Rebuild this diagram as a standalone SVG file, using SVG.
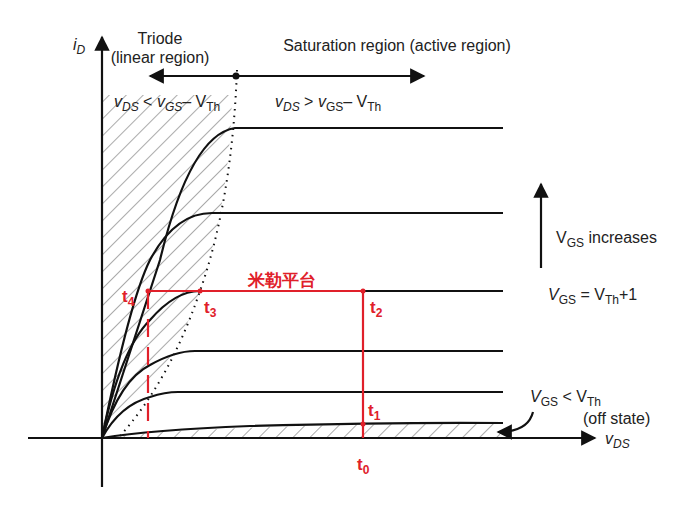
<svg xmlns="http://www.w3.org/2000/svg" width="699" height="507" viewBox="0 0 699 507">
<style>
.t{font-family:"Liberation Sans",Arial,sans-serif;font-size:16px;fill:#222}
.c{fill:none;stroke:#111;stroke-width:2.2}
.r{font-family:"Liberation Sans",Arial,sans-serif;font-size:17px;font-weight:bold;fill:#e0202a}
.s{font-size:12px}
</style>
<defs>
<pattern id="h" width="12" height="12" patternUnits="userSpaceOnUse" patternTransform="rotate(45)">
<line x1="0" y1="0" x2="0" y2="12" stroke="#444" stroke-width="0.9"/>
</pattern>
<marker id="a" viewBox="0 0 10 10" refX="9" refY="5" markerWidth="7" markerHeight="7" orient="auto-start-reverse"><path d="M0,0L10,5L0,10z" fill="#111"/></marker>
</defs>
<rect width="699" height="507" fill="#fff"/>
<g id="hatch">
<path d="M102,95 L232,95 Q230,200 200,291 Q170,380 102,438 Z" fill="url(#h)"/>
<path d="M110,436 Q250,424 500,423 L500,438 L110,438 Z" fill="url(#h)"/>
</g>
<g id="connectors">
<line x1="102" y1="487" x2="102" y2="37" class="c" marker-end="url(#a)"/>
<line x1="28" y1="438" x2="595" y2="438" class="c" marker-end="url(#a)"/>
<line x1="236" y1="76" x2="150" y2="76" class="c" marker-end="url(#a)"/>
<line x1="236" y1="76" x2="424" y2="76" class="c" marker-end="url(#a)"/>
<circle cx="236" cy="76" r="3.5" fill="#111"/>
<line x1="541" y1="268" x2="541" y2="184" class="c" marker-end="url(#a)"/>
<path d="M533,412 Q528,432 498,432" class="c" marker-end="url(#a)"/>
<path d="M237,70 Q232,200 200,291 Q170,380 120,436" fill="none" stroke="#111" stroke-width="2" stroke-dasharray="1.5 5"/>
</g>
<g id="curves">
<path d="M102,438 L160,260 Q190,135 235,128 L503,128" class="c"/>
<path d="M102,438 Q130,300 150,260 Q175,213 212,213 L503,213" class="c"/>
<path d="M102,438 Q120,350 150,320 Q175,291 200,291 L503,291" class="c"/>
<path d="M102,438 Q120,380 150,365 Q175,351 195,351 L503,351" class="c"/>
<path d="M102,438 Q120,405 150,397 Q165,392 178,392 L503,392" class="c"/>
<path d="M102,438 Q150,430 250,426 Q400,422 503,423" class="c"/>
</g>
<g id="miller" stroke="#e0202a" stroke-width="2.2" fill="none">
<path d="M148,291 L363,291 L363,438"/>
<line x1="148" y1="291" x2="148" y2="438" stroke-dasharray="18 10"/>
</g>
<g fill="#e0202a"><circle cx="148" cy="291" r="2.5"/><circle cx="200" cy="291" r="2.5"/><circle cx="363" cy="291" r="2.5"/><circle cx="363" cy="424" r="2.5"/></g>
<g id="labels">
<text x="73" y="50" class="t" font-style="italic">i<tspan class="s" dy="4">D</tspan></text>
<text x="160" y="44" class="t" text-anchor="middle">Triode</text>
<text x="160" y="63" class="t" text-anchor="middle">(linear region)</text>
<text x="397" y="51" class="t" text-anchor="middle">Saturation region (active region)</text>
<text x="114" y="107" class="t"><tspan font-style="italic">v</tspan><tspan class="s" dy="4" font-style="italic">DS</tspan><tspan dy="-4"> &lt; </tspan><tspan font-style="italic">v</tspan><tspan class="s" dy="4" font-style="italic">GS</tspan><tspan dy="-4">– V</tspan><tspan class="s" dy="4">Th</tspan></text>
<text x="275" y="107" class="t"><tspan font-style="italic">v</tspan><tspan class="s" dy="4" font-style="italic">DS</tspan><tspan dy="-4"> &gt; </tspan><tspan font-style="italic">v</tspan><tspan class="s" dy="4">GS</tspan><tspan dy="-4">– V</tspan><tspan class="s" dy="4">Th</tspan></text>
<text x="556" y="243" class="t">V<tspan class="s" dy="4">GS</tspan><tspan dy="-4"> increases</tspan></text>
<text x="548" y="300" class="t"><tspan font-style="italic">V</tspan><tspan class="s" dy="4">GS</tspan><tspan dy="-4"> = V</tspan><tspan class="s" dy="4">Th</tspan><tspan dy="-4">+1</tspan></text>
<text x="530" y="402" class="t"><tspan font-style="italic">V</tspan><tspan class="s" dy="4">GS</tspan><tspan dy="-4"> &lt; V</tspan><tspan class="s" dy="4">Th</tspan></text>
<text x="583" y="424" class="t">(off state)</text>
<text x="605" y="444" class="t" font-style="italic">v<tspan class="s" dy="4">DS</tspan></text>
<text x="282" y="286" class="r" text-anchor="middle" font-family="'Noto Sans CJK SC',sans-serif">米勒平台</text>
<text x="122" y="302" class="r">t<tspan class="s" dy="4">4</tspan></text>
<text x="204" y="313" class="r">t<tspan class="s" dy="4">3</tspan></text>
<text x="370" y="313" class="r">t<tspan class="s" dy="4">2</tspan></text>
<text x="368" y="416" class="r">t<tspan class="s" dy="4">1</tspan></text>
<text x="357" y="470" class="r">t<tspan class="s" dy="4">0</tspan></text>
</g>
</svg>
